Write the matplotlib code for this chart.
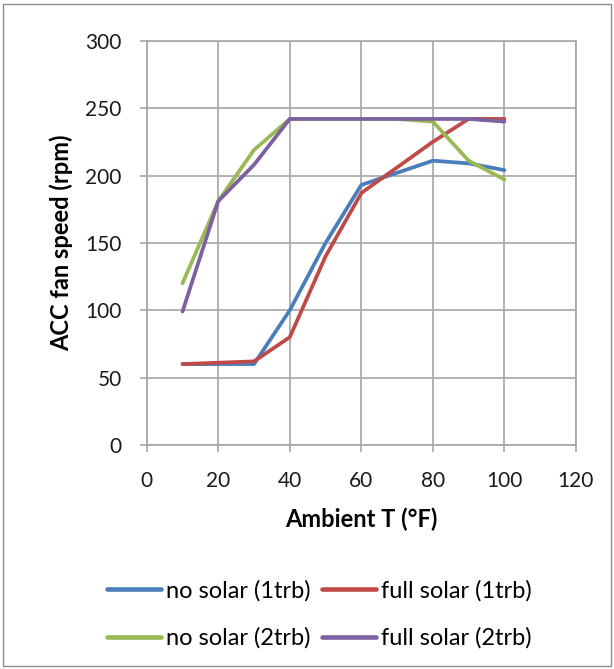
import matplotlib.pyplot as plt
from matplotlib.patches import Rectangle

# Ambient temperature (F) and fan speed (rpm) per case
temps = [10, 20, 30, 40, 50, 60, 70, 80, 90, 100]
no_solar_1trb = [60, 60, 60, 100, 150, 193, 202, 211, 209, 204]
full_solar_1trb = [60, 61, 62, 80, 140, 187, 206, 225, 242, 242]
no_solar_2trb = [120, 181, 219, 242, 242, 242, 242, 240, 211, 197]
full_solar_2trb = [99, 181, 208, 242, 242, 242, 242, 242, 242, 240]

labels = ['no solar (1trb)', 'full solar (1trb)', 'no solar (2trb)', 'full solar (2trb)']
colors = ['#4a7ebb', '#be4b48', '#98b954', '#7d60a0']

plt.rcParams['font.family'] = ['Lato', 'DejaVu Sans']

fig = plt.figure(figsize=(6.14, 6.69), dpi=100)
ax = fig.add_axes([0.239, 0.335, 0.699, 0.604])

series = [no_solar_1trb, full_solar_1trb, no_solar_2trb, full_solar_2trb]
lines = []
for ys, lab, c in zip(series, labels, colors):
    ln, = ax.plot(temps, ys, color=c, lw=2.7, label=lab, solid_capstyle='round')
    lines.append(ln)

ax.set_xlim(0, 120)
ax.set_ylim(0, 300)
ax.set_xticks(range(0, 121, 20))
ax.set_yticks(range(0, 301, 50))
ax.grid(True, color='#a6a6a6', lw=1.2)
ax.set_axisbelow(True)
for sp in ax.spines.values():
    sp.set_color('#a6a6a6')
    sp.set_linewidth(1.2)
ax.tick_params(colors='#a6a6a6', labelcolor='#1a1a1a', labelsize=15, length=5, width=1.2)
ax.tick_params(axis='y', pad=13)
ax.tick_params(axis='x', pad=14)

ax.set_xlabel('Ambient T (°F)', fontsize=17, fontweight='bold', labelpad=12)
ax.set_ylabel('ACC fan speed (rpm)', fontsize=17, fontweight='bold', labelpad=9)

# legend fills column-wise, so reorder to get the 1trb pair on the top row
order = [0, 2, 1, 3]
leg = fig.legend([lines[i] for i in order], [labels[i] for i in order], ncol=2,
                 loc='center', bbox_to_anchor=(0.52, 0.0815), frameon=False, fontsize=17,
                 handlelength=2.3, handletextpad=0.2, columnspacing=0.5, labelspacing=1.1)
for h in leg.get_lines():
    h.set_linewidth(3.3)

border = Rectangle((0.005, 0.004), 0.99, 0.99, transform=fig.transFigure,
                   fill=False, edgecolor='#8c8c8c', lw=1.0)
fig.patches.append(border)

fig.savefig('out.png', dpi=100)
